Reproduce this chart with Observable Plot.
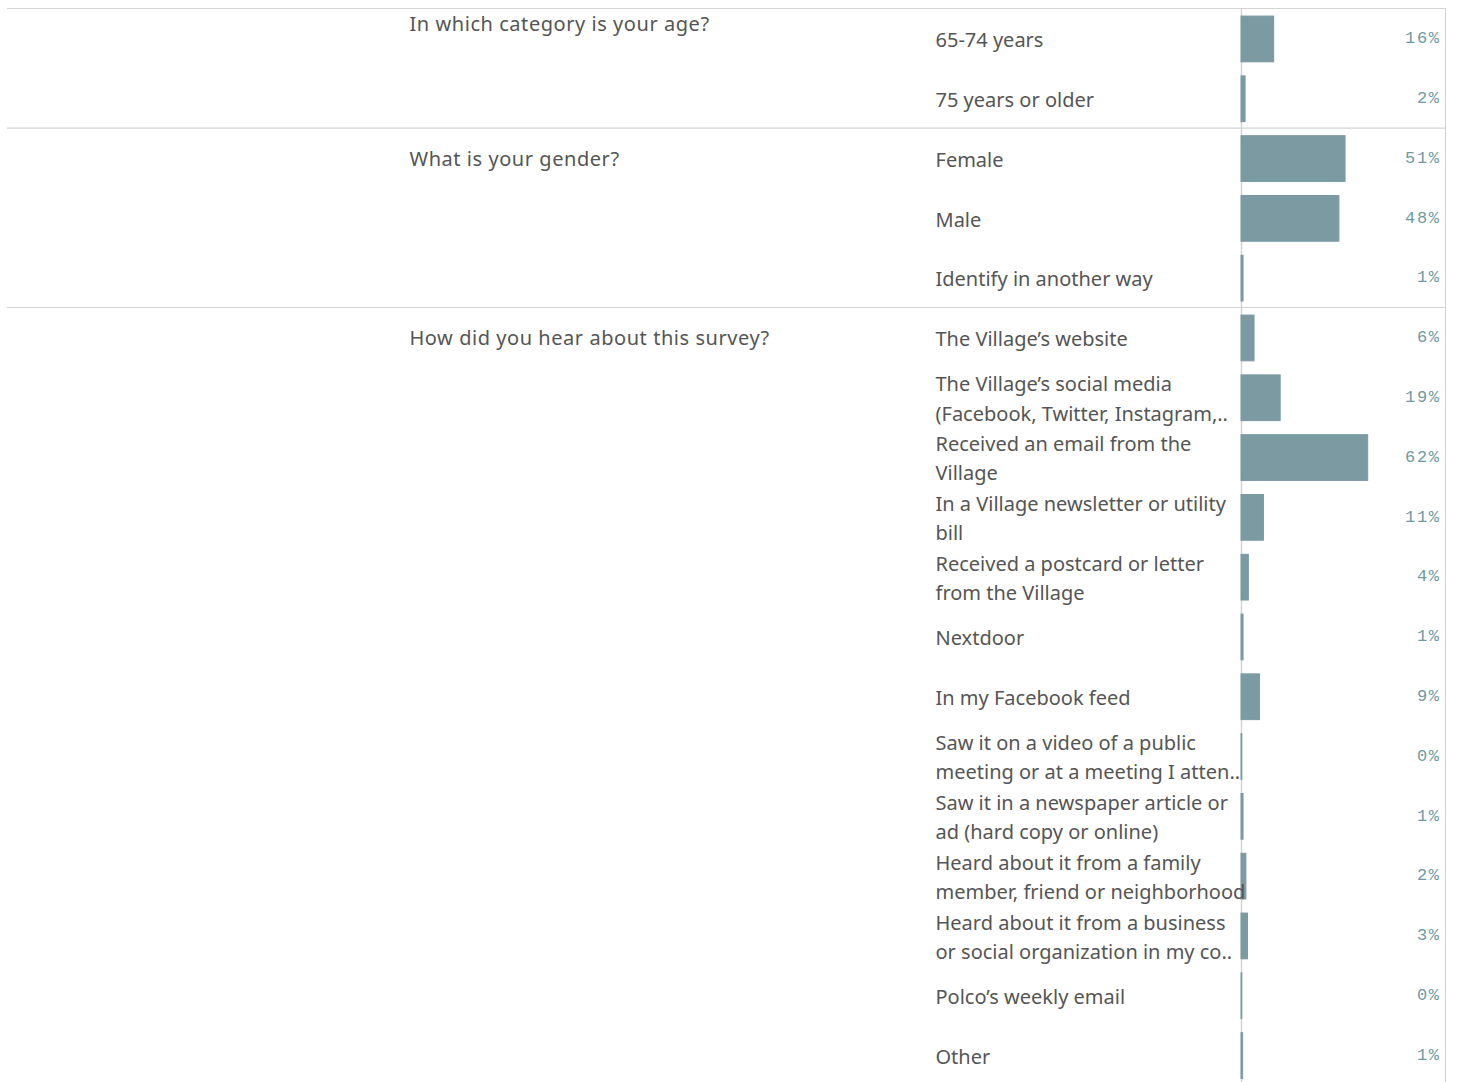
<!DOCTYPE html>
<html><head><meta charset="utf-8">
<script src="https://cdn.jsdelivr.net/npm/d3@7"></script>
<script src="https://cdn.jsdelivr.net/npm/@observablehq/plot@0.6"></script>
<style>
body{margin:0;background:#fff} svg{display:block}
.qlabel text, text.qlabel, .qlabel{letter-spacing:0.55px}
.pctlabel text, text.pctlabel, .pctlabel{letter-spacing:1.6px}
</style>
</head><body><div id="chart"></div>
<script>
const questions = [
  "In which category is your age?",
  "What is your gender?",
  "How did you hear about this survey?"
];
const ageAnswers = ["65-74 years", "75 years or older"];
const ageValues = [16, 2];
const genderAnswers = ["Female", "Male", "Identify in another way"];
const genderValues = [51, 48, 1];
const sourceAnswers = [
  "The Village’s website",
  "The Village’s social media\n(Facebook, Twitter, Instagram,..",
  "Received an email from the\nVillage",
  "In a Village newsletter or utility\nbill",
  "Received a postcard or letter\nfrom the Village",
  "Nextdoor",
  "In my Facebook feed",
  "Saw it on a video of a public\nmeeting or at a meeting I atten..",
  "Saw it in a newspaper article or\nad (hard copy or online)",
  "Heard about it from a family\nmember, friend or neighborhood",
  "Heard about it from a business\nor social organization in my co..",
  "Polco’s weekly email",
  "Other"
];
const sourceValues = [6.4, 19.2, 62.1, 11.0, 3.6, 1.0, 9.1, 0.4, 1.0, 2.4, 3.2, 0.4, 0.8];

const groups = [
  {answers: ageAnswers, values: ageValues},
  {answers: genderAnswers, values: genderValues},
  {answers: sourceAnswers, values: sourceValues}
];
const rows = [];
const starts = [];
groups.forEach((g, gi) => {
  starts.push({q: gi, question: questions[gi], start: rows.length});
  g.answers.forEach((a, k) => rows.push({q: gi, answer: a, value: g.values[k], i: rows.length}));
});

const textColor = "#555555";
const lineColor = "#d4d4d4";
const fmt = v => `${Math.round(v)}%`;

const chart = Plot.plot({
  width: 1460,
  height: 1082,
  marginLeft: 1241,
  marginRight: 15,
  marginTop: 8,
  marginBottom: 0,
  x: {domain: [0, 100], axis: null},
  y: {domain: [0, rows.length], range: [8, 8 + rows.length * 59.8], axis: null},
  style: {fontFamily: "'Noto Sans', sans-serif", background: "white", overflow: "hidden"},
  marks: [
    Plot.ruleY(starts, {y: "start", stroke: lineColor, strokeWidth: 1.2, insetLeft: -1234}),
    Plot.ruleX([0], {stroke: lineColor, strokeWidth: 1.5}),
    Plot.ruleX([100], {stroke: lineColor, strokeWidth: 1.2}),
    Plot.rectX(rows, {
      x1: 0, x2: "value",
      y1: d => d.i + 0.135, y2: d => d.i + 0.9,
      fill: "#7b9aa2", stroke: "#7b9aa2", strokeWidth: 1
    }),
    Plot.text(rows, {
      x: 0, y: d => d.i + 0.49, text: "answer",
      textAnchor: "start", dx: -306, lineHeight: 1.46,
      fill: textColor, fontSize: 20
    }),
    Plot.text(rows, {
      x: 100, y: d => d.i + 0.49, text: d => fmt(d.value),
      textAnchor: "end", dx: -5,
      fill: "#6e9aa3", fontSize: 17, fontFamily: "'Liberation Mono', monospace",
      className: "pctlabel"
    }),
    Plot.text(starts.filter(d => d.start === 0), {
      x: 0, frameAnchor: "top", text: "question",
      textAnchor: "start", lineAnchor: "top", dx: -832, dy: 8,
      fill: textColor, fontSize: 20, className: "qlabel"
    }),
    Plot.text(starts.filter(d => d.start > 0), {
      x: 0, y: d => d.start + 0.52, text: "question",
      textAnchor: "start", dx: -832,
      fill: textColor, fontSize: 20, className: "qlabel"
    })
  ]
});
document.getElementById("chart").appendChild(chart);
</script>
</body></html>
